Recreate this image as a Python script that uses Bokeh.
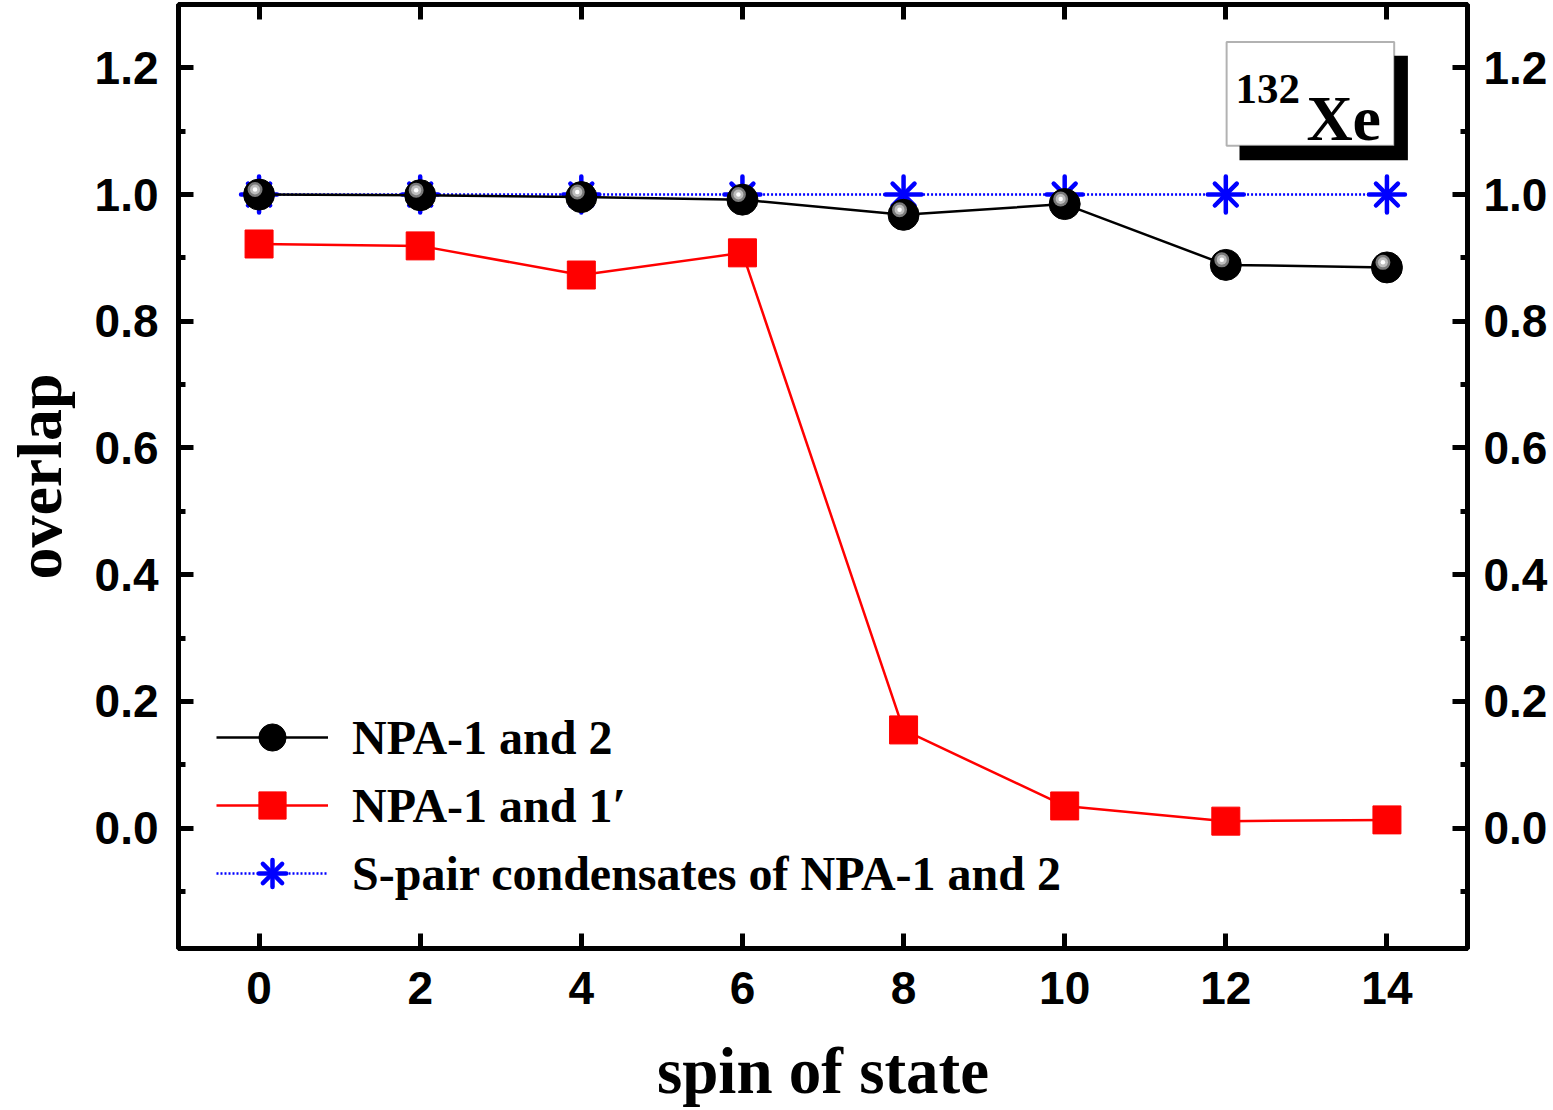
from bokeh.plotting import figure
from bokeh.models import (Range1d, LinearAxis, SingleIntervalTicker, PrintfTickFormatter,
                          Legend, LegendItem, BoxAnnotation, Label, ColumnDataSource)
from bokeh.transform import dodge
from bokeh.embed import file_html
from bokeh.resources import INLINE

# ---- data ----
spin = [0, 2, 4, 6, 8, 10, 12, 14]
overlap_npa1_npa2 = [1.000, 0.999, 0.996, 0.992, 0.968, 0.985, 0.889, 0.885]
overlap_npa1_npa1p = [0.922, 0.919, 0.873, 0.908, 0.155, 0.035, 0.011, 0.013]
overlap_s_pair = [1.000, 1.000, 1.000, 1.000, 1.000, 1.000, 1.000, 1.000]

legend_labels = ["NPA-1 and 2", "NPA-1 and 1\u2032", "S-pair condensates of NPA-1 and 2"]
x_title = "spin of state"
y_title = "overlap"
nucleus_mass = "132"
nucleus_symbol = "Xe"

src = ColumnDataSource(dict(spin=spin, a=overlap_npa1_npa2, b=overlap_npa1_npa1p, c=overlap_s_pair))

SERIF = "Liberation Serif"
SANS = "Liberation Sans"

p = figure(width=1553, height=1110, output_backend="svg", toolbar_location=None,
           x_range=Range1d(-1, 15), y_range=Range1d(-0.19, 1.30),
           min_border_left=178, min_border_right=86, min_border_top=4, min_border_bottom=162,
           background_fill_color="white", border_fill_color="white")
p.grid.visible = False
p.outline_line_color = "black"
p.outline_line_width = 5

xt = SingleIntervalTicker(interval=2, num_minor_ticks=0)
yt = SingleIntervalTicker(interval=0.2, num_minor_ticks=2)

bottom = p.xaxis[0]
left = p.yaxis[0]
top = LinearAxis()
right = LinearAxis()
p.add_layout(top, "above")
p.add_layout(right, "right")

for ax in (bottom, top):
    ax.ticker = xt
    ax.formatter = PrintfTickFormatter(format="%d")
for ax in (left, right):
    ax.ticker = yt
    ax.formatter = PrintfTickFormatter(format="%.1f")
for ax in (bottom, top, left, right):
    ax.axis_line_width = 5
    ax.axis_line_color = "black"
    ax.major_tick_in = 15
    ax.major_tick_out = 0
    ax.minor_tick_in = 7
    ax.minor_tick_out = 0
    ax.major_tick_line_width = 5
    ax.minor_tick_line_width = 5
    ax.major_label_text_font = SANS
    ax.major_label_text_font_style = "bold"
    ax.major_label_text_font_size = "46px"
    ax.major_label_text_color = "black"
top.major_label_text_color = None
top.major_label_standoff = 0
bottom.major_label_standoff = 23
left.major_label_standoff = 20
right.major_label_standoff = 16

bottom.axis_label = x_title
bottom.axis_label_text_font = SERIF
bottom.axis_label_text_font_style = "bold"
bottom.axis_label_text_font_size = "65px"
bottom.axis_label_text_color = "black"
bottom.axis_label_standoff = 28

left.axis_label = y_title
left.axis_label_text_font = SERIF
left.axis_label_text_font_style = "bold"
left.axis_label_text_font_size = "64px"
left.axis_label_text_color = "black"
left.axis_label_standoff = 17

# ---- series ----
l_blue = p.line("spin", "c", source=src, line_color="#0000ff", line_width=2.5, line_dash="2 2")
m_blue_x = p.scatter("spin", "c", source=src, marker="x", size=31, line_color="#0000ff",
                     line_width=4.5, line_cap="round")
m_blue_c = p.scatter("spin", "c", source=src, marker="cross", size=36, line_color="#0000ff",
                     line_width=4.5, line_cap="round")

l_black = p.line("spin", "a", source=src, line_color="black", line_width=2.5)
m_black = p.scatter("spin", "a", source=src, marker="circle", size=31, fill_color="black",
                    line_color="black", line_width=1)
hx = dodge("spin", -0.05, range=p.x_range)
hy = dodge("a", 0.008, range=p.y_range)
p.scatter(hx, hy, source=src, marker="circle", size=15, fill_color="#7a7a7a", line_color=None)
p.scatter(hx, hy, source=src, marker="circle", size=10, fill_color="#bdbdbd", line_color=None)
p.scatter(hx, hy, source=src, marker="circle", size=4.5, fill_color="white", line_color=None)

l_red = p.line("spin", "b", source=src, line_color="#ff0000", line_width=2.5)
m_red = p.scatter("spin", "b", source=src, marker="square", size=28, fill_color="#ff0000",
                  line_color="#ff0000", line_width=1)

legend = Legend(items=[
    LegendItem(label=legend_labels[0], renderers=[l_black, m_black]),
    LegendItem(label=legend_labels[1], renderers=[l_red, m_red]),
    LegendItem(label=legend_labels[2], renderers=[l_blue, m_blue_x, m_blue_c]),
], location=(38, 41), margin=0, padding=0, glyph_width=112, glyph_height=68,
    label_height=68, spacing=0, label_standoff=24,
    label_text_font=SERIF, label_text_font_style="bold", label_text_font_size="48px",
    label_text_color="black", background_fill_alpha=0, border_line_color=None)
p.add_layout(legend)

# ---- nucleus tag with shadow ----
p.add_layout(BoxAnnotation(left=12.17, right=14.26, top=1.219, bottom=1.054,
                           fill_color="black", fill_alpha=1, line_color=None))
p.add_layout(BoxAnnotation(left=12.01, right=14.09, top=1.241, bottom=1.077,
                           fill_color="white", fill_alpha=1, line_color="black", line_width=2))
p.add_layout(Label(x=12.12, y=1.167, text=nucleus_mass, text_baseline="alphabetic",
                   text_font=SERIF, text_font_style="bold", text_font_size="43px",
                   text_color="black"))
p.add_layout(Label(x=13.0, y=1.1195, text=nucleus_symbol, text_baseline="alphabetic",
                   text_font=SERIF, text_font_style="bold", text_font_size="64px",
                   text_color="black"))

open("out.html", "w").write(file_html(p, INLINE))
